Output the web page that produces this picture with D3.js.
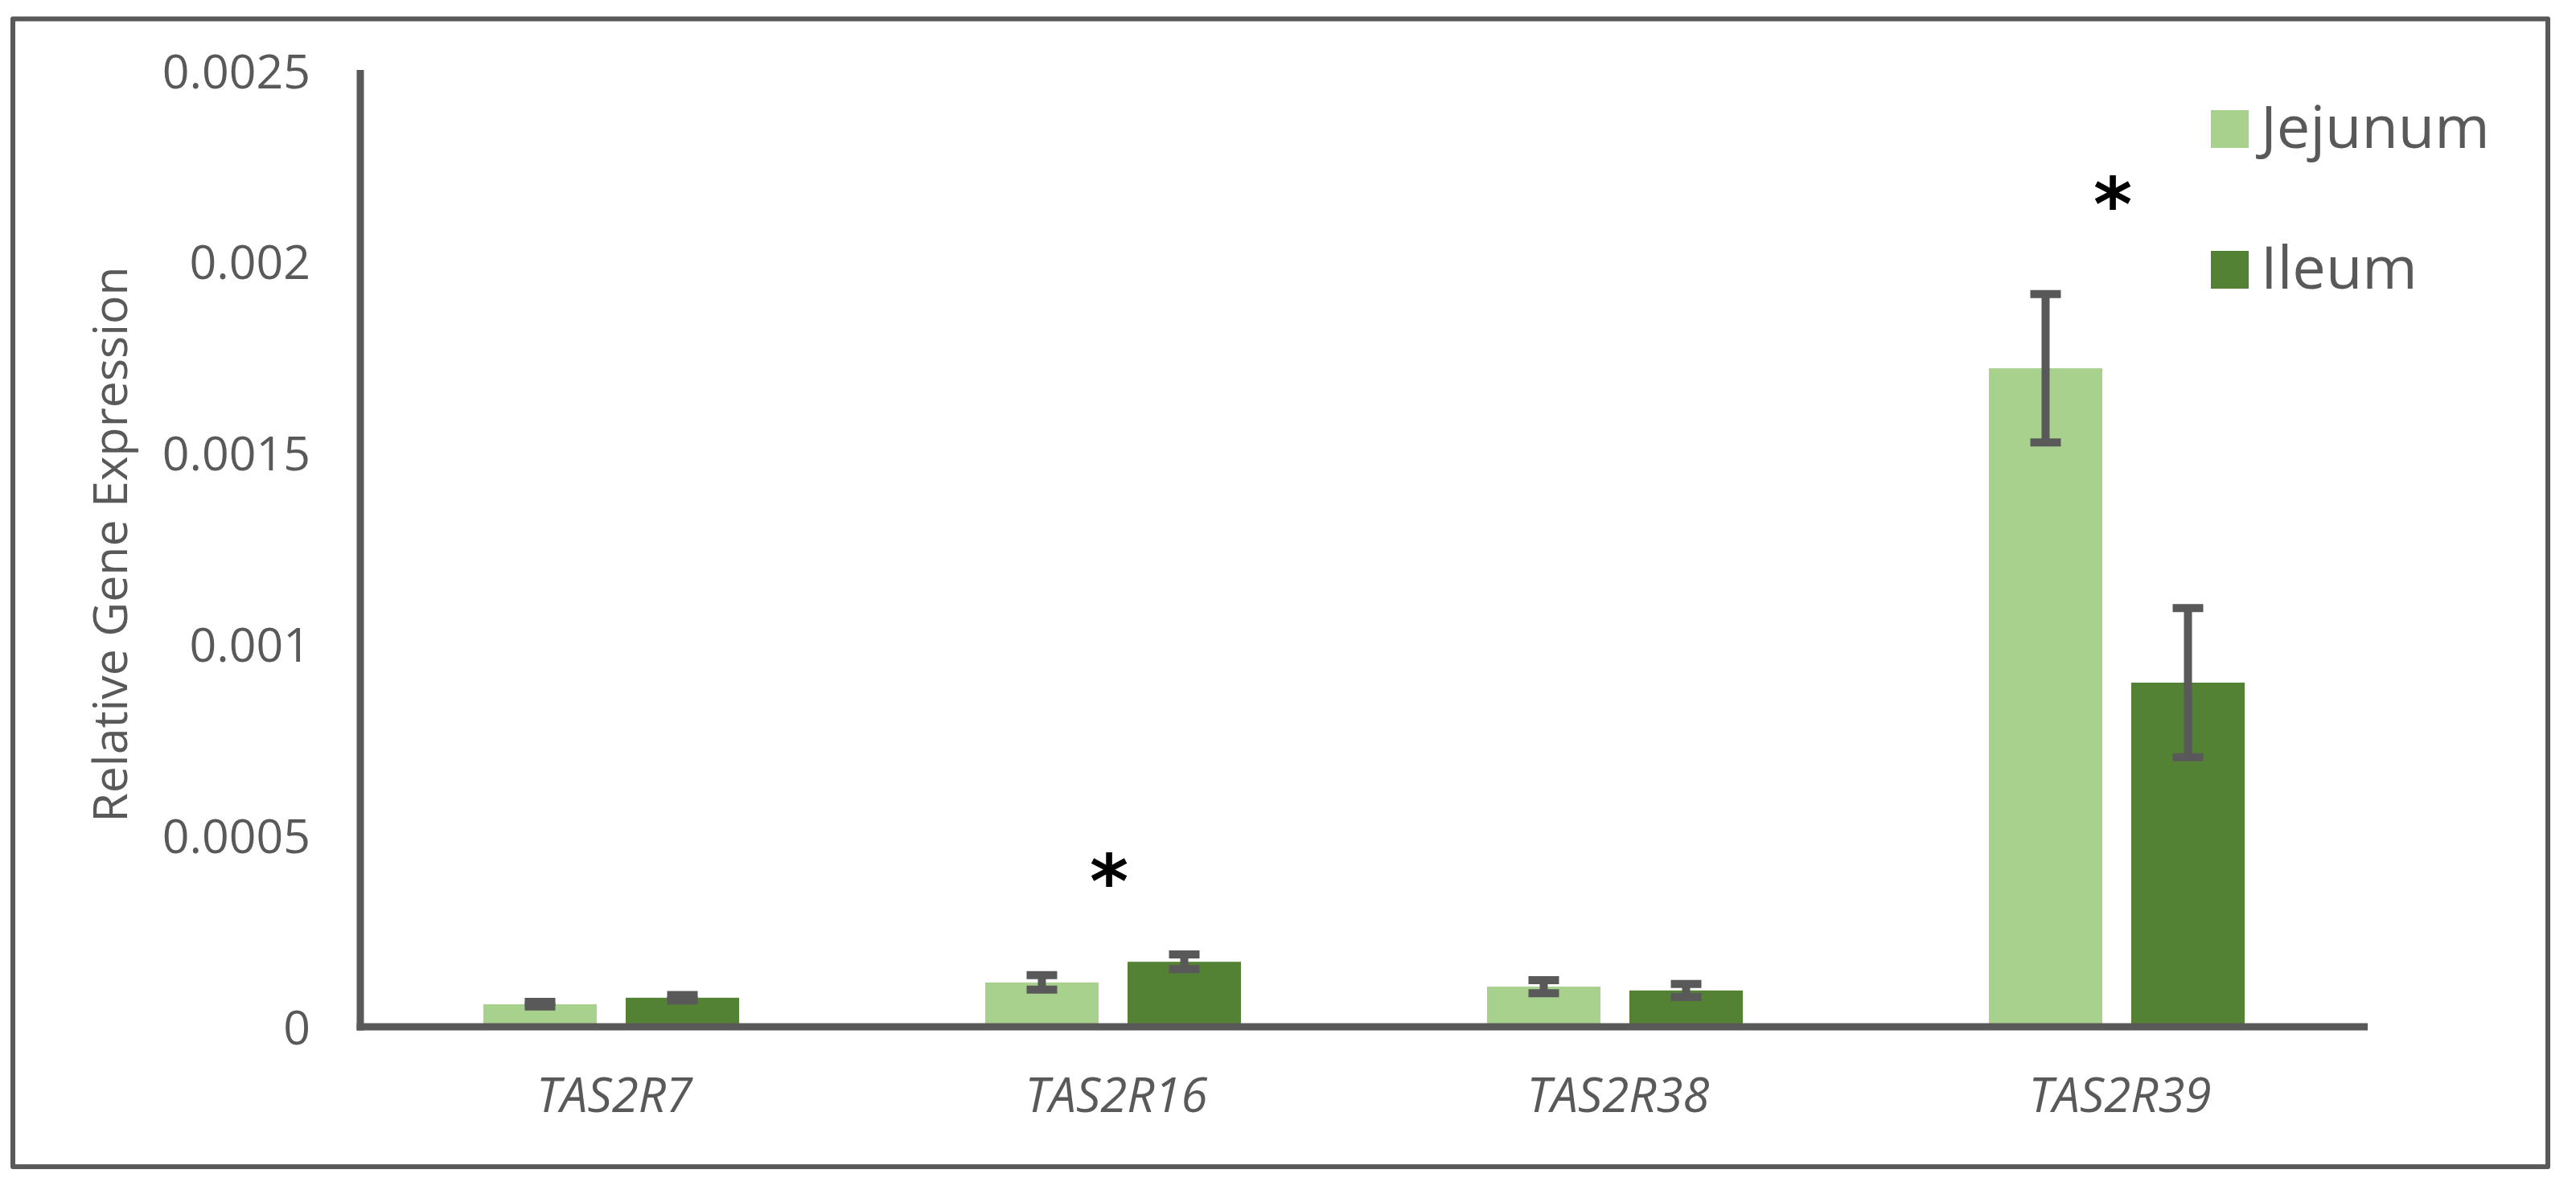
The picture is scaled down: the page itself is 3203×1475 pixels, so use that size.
<!DOCTYPE html>
<html>
<head>
<meta charset="utf-8">
<script src="https://cdn.jsdelivr.net/npm/d3@7"></script>
<style>
  html, body { margin: 0; padding: 0; background: #ffffff; }
  svg { display: block; }
</style>
</head>
<body>
<svg id="chart" width="3203" height="1475"></svg>
<script>
// ---- data ----
const categories = ["TAS2R7", "TAS2R16", "TAS2R38", "TAS2R39"];
const seriesNames = ["Jejunum", "Ileum"];
const jejunum    = [0.000059, 0.000116, 0.000105, 0.001722];
const jejunumErr = [0.000006, 0.000019, 0.000017, 0.000194];
const ileum      = [0.000076, 0.000170, 0.000095, 0.000900];
const ileumErr   = [0.000007, 0.000019, 0.000017, 0.000195];
const yTicks      = [0, 0.0005, 0.001, 0.0015, 0.002, 0.0025];
const yTickLabels = ["0", "0.0005", "0.001", "0.0015", "0.002", "0.0025"];
const sigCategories = ["TAS2R16", "TAS2R39"];
const sigLevels     = [0.00042, 0.00219];
const yTitle = "Relative Gene Expression";

// ---- styles ----
const colors = { Jejunum: "#A9D18E", Ileum: "#548235" };
const grey = "#595959";
const font = "'Open Sans', 'Noto Sans', sans-serif";

const svg = d3.select("#chart");

// outer frame
svg.append("rect")
  .attr("x", 16).attr("y", 23.5)
  .attr("width", 3152).attr("height", 1427.5)
  .attr("fill", "none").attr("stroke", grey).attr("stroke-width", 6)
  .attr("stroke-linejoin", "round");

// scales
const x = d3.scaleBand().domain(categories).range([448, 2944]).paddingInner(0).paddingOuter(0);
const xs = d3.scaleBand().domain(seriesNames).range([0, x.bandwidth()])
  .paddingInner(36 / 177).paddingOuter(0.864);
const y = d3.scaleLinear().domain([0, 0.0025]).range([1277, 88]);

const seriesData = [
  { name: "Jejunum", values: jejunum, errs: jejunumErr },
  { name: "Ileum", values: ileum, errs: ileumErr }
];

const rows = [];
seriesData.forEach(s => {
  categories.forEach((c, i) => rows.push({ cat: c, series: s.name, v: s.values[i], e: s.errs[i] }));
});

// bars
svg.append("g").selectAll("rect").data(rows).join("rect")
  .attr("x", d => x(d.cat) + xs(d.series))
  .attr("width", xs.bandwidth())
  .attr("y", d => y(d.v))
  .attr("height", d => y(0) - y(d.v))
  .attr("fill", d => colors[d.series]);

// error bars
const capW = 38;
const eg = svg.append("g").attr("stroke", grey).attr("stroke-width", 10).attr("fill", "none");
rows.forEach(d => {
  const cx = x(d.cat) + xs(d.series) + xs.bandwidth() / 2;
  const yt = y(d.v + d.e), yb = y(d.v - d.e);
  eg.append("line").attr("x1", cx).attr("x2", cx).attr("y1", yt).attr("y2", yb);
  eg.append("line").attr("x1", cx - capW / 2).attr("x2", cx + capW / 2).attr("y1", yt).attr("y2", yt);
  eg.append("line").attr("x1", cx - capW / 2).attr("x2", cx + capW / 2).attr("y1", yb).attr("y2", yb);
});

// y axis
const yAxis = d3.axisLeft(y).tickValues(yTicks)
  .tickFormat((d, i) => yTickLabels[i]).tickSize(0).tickPadding(0);
const yg = svg.append("g").attr("transform", "translate(448,0)").call(yAxis);
yg.select(".domain").attr("stroke", grey).attr("stroke-width", 9)
  .attr("d", `M0,${y.range()[1] - 1}V${y(0) + 4.5}`);
yg.selectAll(".tick text")
  .attr("x", -62).attr("dy", null).attr("y", 21)
  .attr("fill", grey).style("font-family", font).style("font-size", "59px");

// x axis
const xAxis = d3.axisBottom(x).tickSize(0).tickPadding(0);
const xg = svg.append("g").attr("transform", "translate(0,1277)").call(xAxis);
xg.select(".domain").attr("stroke", grey).attr("stroke-width", 9)
  .attr("d", `M${x.range()[0] - 4.5},0H${x.range()[1]}`);
xg.selectAll(".tick text")
  .attr("y", 106).attr("dy", null).attr("x", 4)
  .attr("fill", grey).style("font-family", font).style("font-size", "60px")
  .style("font-style", "italic");

// y title
svg.append("text")
  .attr("transform", "translate(158,677) rotate(-90)")
  .attr("text-anchor", "middle")
  .attr("fill", grey).style("font-family", font).style("font-size", "59px")
  .text(yTitle);

// significance asterisks
const sigG = svg.append("g");
sigCategories.forEach((c, i) => {
  sigG.append("text")
    .attr("x", x(c) + x.bandwidth() / 2 - 5)
    .attr("y", y(sigLevels[i]) + 52)
    .attr("text-anchor", "middle")
    .attr("fill", "#000")
    .style("font-family", "'DejaVu Sans', sans-serif")
    .style("font-weight", "bold")
    .style("font-size", "92px")
    .text("*");
});

// legend
const lg = svg.append("g");
seriesNames.forEach((s, i) => {
  const base = 184 + i * 175;
  lg.append("rect").attr("x", 2749).attr("y", base - 47).attr("width", 47).attr("height", 47)
    .attr("fill", colors[s]);
  lg.append("text").attr("x", 2811).attr("y", base)
    .attr("fill", grey).style("font-family", font).style("font-size", "74px")
    .text(s);
});
</script>
</body>
</html>
